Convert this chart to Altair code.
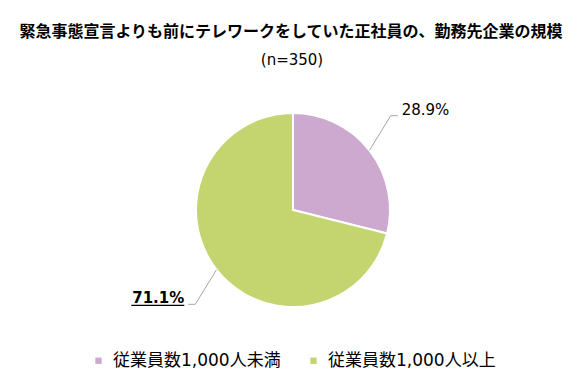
import altair as alt
import pandas as pd
import numpy as np

# ---- data ----
categories = ["従業員数1,000人未満", "従業員数1,000人以上"]
shares = [28.9, 71.1]
labels = ["28.9%", "71.1%"]
label_bold = [False, True]
colors = ["#CDA9CF", "#C4D56F"]
title_text = "緊急事態宣言よりも前にテレワークをしていた正社員の、勤務先企業の規模"
subtitle_text = "(n=350)"

# ---- layout ----
W, H = 564, 366
CX, CY, R = 285, 202, 97
JP = "Noto Sans CJK JP"
NUM = "DejaVu Sans"
MIX = "DejaVu Sans, Noto Sans CJK JP"

df = pd.DataFrame({"cat": categories, "val": shares, "ord": [0, 1]})

# leader lines / label anchors derived from the slice angles
cum = np.cumsum([0] + shares)
rows, labrows = [], []
for i, (lab, b) in enumerate(zip(labels, label_bold)):
    mid = (cum[i] + cum[i + 1]) / 2 / 100 * 2 * np.pi
    side = 1 if np.sin(mid) >= 0 else -1
    sx, sy = CX + R * np.sin(mid), CY - R * np.cos(mid)
    e_ang = mid - np.deg2rad(6)
    ex, ey = CX + 1.4 * R * np.sin(e_ang), CY - 1.4 * R * np.cos(e_ang)
    hx = ex + 7 * side
    for k, (x, y) in enumerate([(sx, sy), (ex, ey), (hx, ey)]):
        rows.append({"s": i, "k": k, "x": x, "y": y})
    labrows.append({"lab": lab, "x": hx + 4 * side, "y": ey - 1, "side": side,
                    "bold": b, "uy": ey + 1})
lines = pd.DataFrame(rows)
labdf = pd.DataFrame(labrows)

xs = alt.Scale(domain=[0, W], nice=False, zero=False)
ys = alt.Scale(domain=[H, 0], nice=False, zero=False)

pie = alt.Chart(df).mark_arc(outerRadius=R, stroke="white", strokeWidth=2).encode(
    theta=alt.Theta("val:Q", stack=True),
    order=alt.Order("ord:Q"),
    color=alt.Color("cat:N", scale=alt.Scale(domain=categories, range=colors),
                    legend=alt.Legend(title=None, orient="none", direction="horizontal",
                                      legendX=82, legendY=344, symbolType="square",
                                      symbolSize=40, symbolStrokeWidth=0,
                                      labelFontSize=17, labelFont=MIX, labelColor="#000",
                                      labelOffset=6, columnPadding=24, labelLimit=400)),
    x=alt.value(CX), y=alt.value(CY),
)

leader = alt.Chart(lines).mark_line(color="#A6A6A6", strokeWidth=1).encode(
    x=alt.X("x:Q", scale=xs, axis=None),
    y=alt.Y("y:Q", scale=ys, axis=None),
    detail="s:N", order="k:Q",
)

right_lab = alt.Chart(labdf[labdf.side > 0]).mark_text(
    align="left", baseline="alphabetic", font=NUM, fontSize=15, color="#000"
).encode(x=alt.X("x:Q", scale=xs, axis=None), y=alt.Y("y:Q", scale=ys, axis=None), text="lab:N")

left_lab = alt.Chart(labdf[labdf.side < 0]).mark_text(
    align="right", baseline="alphabetic", font=NUM, fontSize=15, fontWeight="bold", color="#000"
).encode(x=alt.X("x:Q", scale=xs, axis=None), y=alt.Y("y:Q", scale=ys, axis=None), text="lab:N")

# underline for the bold label
ul = labdf[labdf.bold].copy()
ul["x2"] = ul["x"] - 53
underline = alt.Chart(ul).mark_rule(color="#000", strokeWidth=1.2).encode(
    x=alt.X("x2:Q", scale=xs, axis=None), x2="x:Q",
    y=alt.Y("uy:Q", scale=ys, axis=None),
)

tdf = pd.DataFrame({"t": [title_text, subtitle_text]})
title = alt.Chart(tdf.iloc[[0]]).mark_text(
    font=JP, fontSize=16, fontWeight="bold", color="#000", align="center", baseline="middle"
).encode(text="t:N", x=alt.value(283), y=alt.value(24))
subtitle = alt.Chart(tdf.iloc[[1]]).mark_text(
    font=NUM, fontSize=15, color="#000", align="center", baseline="middle"
).encode(text="t:N", x=alt.value(284), y=alt.value(52))

chart = alt.layer(pie, leader, right_lab, left_lab, underline, title, subtitle).properties(
    width=W, height=H, autosize=alt.AutoSizeParams(type="none"), padding=0
).configure_view(stroke=None).resolve_scale(color="independent")

chart.save("out.html", embed_options={"renderer": "svg", "actions": False})
